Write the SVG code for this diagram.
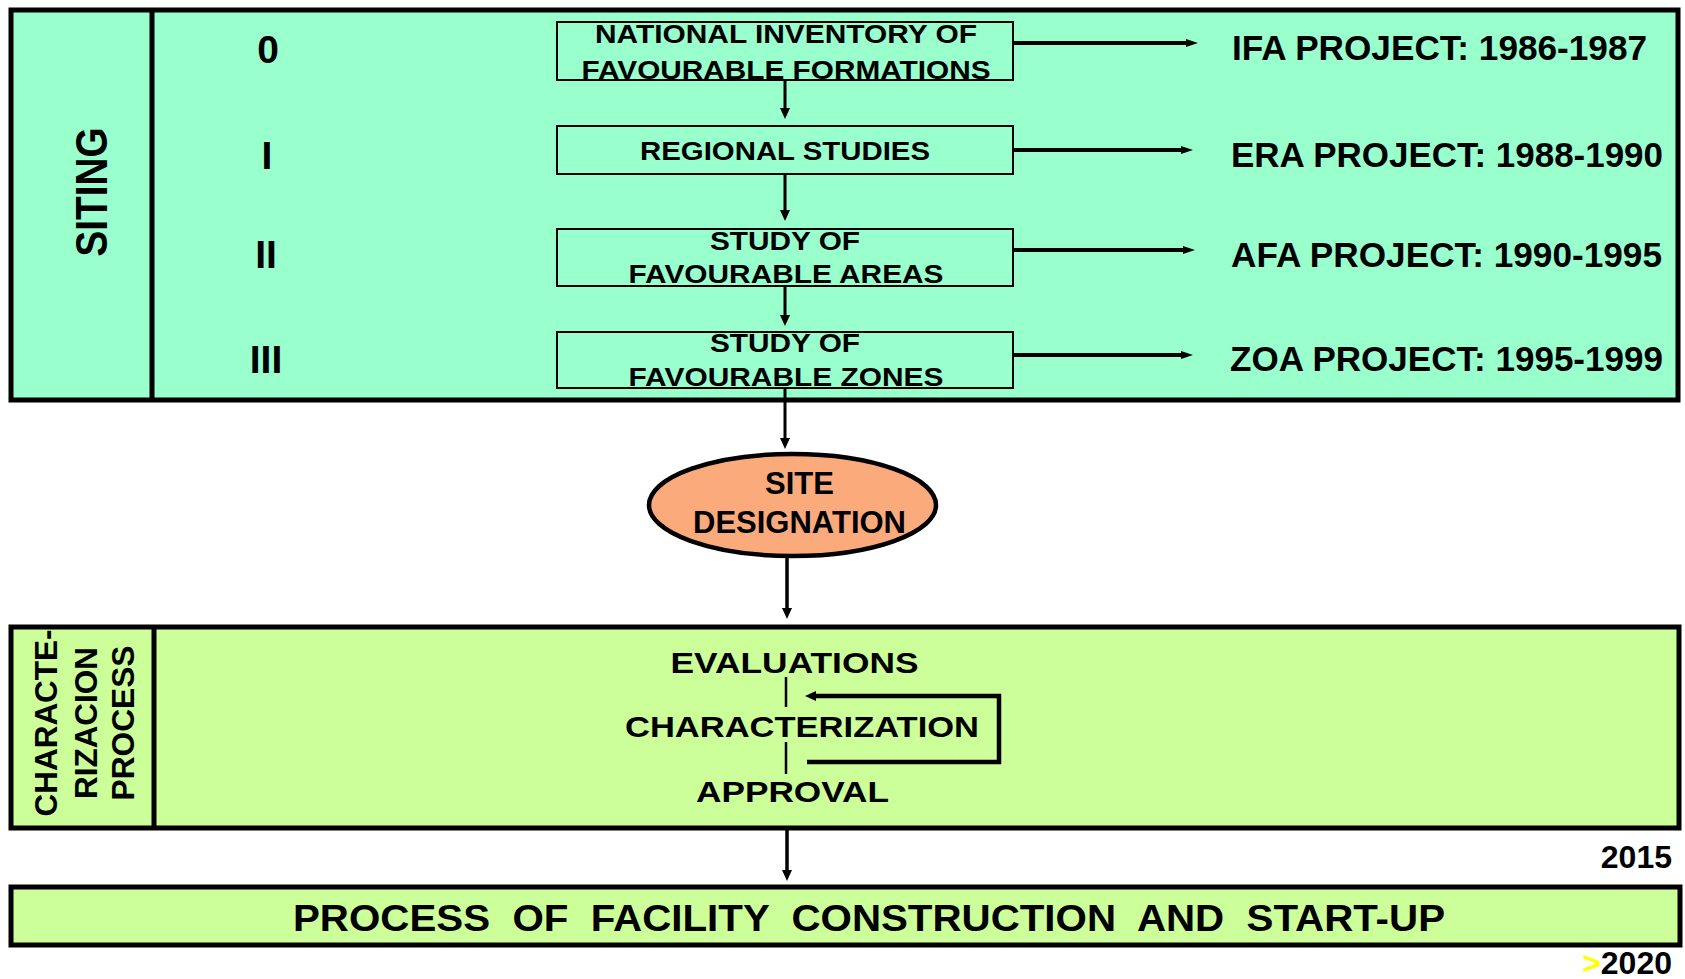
<svg xmlns="http://www.w3.org/2000/svg" width="1685" height="979" viewBox="0 0 1685 979">
  <style>
    .t { font-family: "Liberation Sans", Arial, sans-serif; font-weight: bold; fill: #000; }
    .panel { stroke: #000; stroke-width: 5; }
    .siting { fill: #99FFCC; }
    .charac { fill: #CCFF99; }
    .step { fill: #99FFCC; stroke: #000; stroke-width: 2; }
    .conn { stroke: #000; fill: none; }
  </style>
  <defs>
    <marker id="headV" markerUnits="userSpaceOnUse" markerWidth="11" markerHeight="10" refX="0" refY="5" orient="auto" overflow="visible">
      <path d="M0,0 L11,5 L0,10 Z" fill="#000"/>
    </marker>
    <marker id="headH" markerUnits="userSpaceOnUse" markerWidth="12" markerHeight="8" refX="0" refY="4" orient="auto" overflow="visible">
      <path d="M0,0 L12,4 L0,8 Z" fill="#000"/>
    </marker>
  </defs>

  <!-- Siting panel -->
  <g id="siting-panel">
    <rect class="panel siting" x="11" y="10" width="1667" height="390"/>
    <line x1="152" y1="10" x2="152" y2="400" stroke="#000" stroke-width="5"/>
    <text class="t" font-size="45" text-anchor="middle" textLength="129" lengthAdjust="spacingAndGlyphs" transform="translate(107,192) rotate(-90)">SITING</text>
    <text class="t" font-size="39" text-anchor="middle" x="268" y="63">0</text>
    <text class="t" font-size="39" text-anchor="middle" x="267" y="169">I</text>
    <text class="t" font-size="39" text-anchor="middle" x="266" y="268">II</text>
    <text class="t" font-size="39" text-anchor="middle" x="266" y="373">III</text>
  </g>

  <!-- Siting steps -->
  <g id="step-0">
    <rect class="step" x="557" y="22" width="456" height="58"/>
    <text class="t" font-size="25" text-anchor="middle" x="786" y="43" textLength="382" lengthAdjust="spacingAndGlyphs">NATIONAL INVENTORY OF</text>
    <text class="t" font-size="25" text-anchor="middle" x="786" y="79" textLength="409" lengthAdjust="spacingAndGlyphs">FAVOURABLE FORMATIONS</text>
  </g>
  <g id="step-1">
    <rect class="step" x="557" y="126" width="456" height="48"/>
    <text class="t" font-size="25" text-anchor="middle" x="785" y="160" textLength="290" lengthAdjust="spacingAndGlyphs">REGIONAL STUDIES</text>
  </g>
  <g id="step-2">
    <rect class="step" x="557" y="229" width="456" height="57"/>
    <text class="t" font-size="25" text-anchor="middle" x="785" y="250" textLength="150" lengthAdjust="spacingAndGlyphs">STUDY OF</text>
    <text class="t" font-size="25" text-anchor="middle" x="786" y="283" textLength="315" lengthAdjust="spacingAndGlyphs">FAVOURABLE AREAS</text>
  </g>
  <g id="step-3">
    <rect class="step" x="557" y="332" width="456" height="56"/>
    <text class="t" font-size="25" text-anchor="middle" x="785" y="352" textLength="150" lengthAdjust="spacingAndGlyphs">STUDY OF</text>
    <text class="t" font-size="25" text-anchor="middle" x="786" y="386" textLength="315" lengthAdjust="spacingAndGlyphs">FAVOURABLE ZONES</text>
  </g>

  <!-- Project labels -->
  <g id="project-ifa"><text class="t" font-size="35" x="1232" y="60" textLength="415" lengthAdjust="spacingAndGlyphs">IFA PROJECT: 1986-1987</text></g>
  <g id="project-era"><text class="t" font-size="35" x="1231" y="167" textLength="432" lengthAdjust="spacingAndGlyphs">ERA PROJECT: 1988-1990</text></g>
  <g id="project-afa"><text class="t" font-size="35" x="1231" y="267" textLength="431" lengthAdjust="spacingAndGlyphs">AFA PROJECT: 1990-1995</text></g>
  <g id="project-zoa"><text class="t" font-size="35" x="1230" y="371" textLength="433" lengthAdjust="spacingAndGlyphs">ZOA PROJECT: 1995-1999</text></g>

  <!-- Site designation -->
  <g id="site-designation">
    <ellipse cx="792.5" cy="505" rx="143.5" ry="51" fill="#FBAA7C" stroke="#000" stroke-width="4.5"/>
    <text class="t" font-size="31" text-anchor="middle" x="799.5" y="494">SITE</text>
    <text class="t" font-size="31" text-anchor="middle" x="799.5" y="533">DESIGNATION</text>
  </g>

  <!-- Characterization process panel -->
  <g id="characterization-panel">
    <rect class="panel charac" x="11" y="627" width="1668" height="201"/>
    <line x1="154" y1="627" x2="154" y2="828" stroke="#000" stroke-width="5"/>
    <text class="t" font-size="32" text-anchor="middle" textLength="187" lengthAdjust="spacingAndGlyphs" transform="translate(57,723) rotate(-90)">CHARACTE-</text>
    <text class="t" font-size="32" text-anchor="middle" textLength="152" lengthAdjust="spacingAndGlyphs" transform="translate(97,723) rotate(-90)">RIZACION</text>
    <text class="t" font-size="32" text-anchor="middle" textLength="155" lengthAdjust="spacingAndGlyphs" transform="translate(134,723) rotate(-90)">PROCESS</text>
    <text class="t" font-size="30" text-anchor="middle" x="794.5" y="673" textLength="248" lengthAdjust="spacingAndGlyphs">EVALUATIONS</text>
    <text class="t" font-size="30" text-anchor="middle" x="802" y="737" textLength="354" lengthAdjust="spacingAndGlyphs">CHARACTERIZATION</text>
    <text class="t" font-size="30" text-anchor="middle" x="792.5" y="802" textLength="193" lengthAdjust="spacingAndGlyphs">APPROVAL</text>
  </g>

  <!-- Construction and start-up panel -->
  <g id="construction-panel">
    <rect class="panel charac" x="11" y="887" width="1669" height="58"/>
    <text class="t" font-size="37" x="293" y="931" textLength="1152" lengthAdjust="spacingAndGlyphs" style="white-space:pre">PROCESS  OF  FACILITY  CONSTRUCTION  AND  START-UP</text>
  </g>

  <!-- Milestone years -->
  <g id="year-2015"><text class="t" font-size="32" text-anchor="end" x="1672" y="868">2015</text></g>
  <g id="year-2020"><text class="t" font-size="32" text-anchor="end" x="1672" y="974"><tspan fill="#FFFF00">&gt;</tspan>2020</text></g>

  <!-- Connectors -->
  <g id="connectors" class="conn">
    <!-- step chain -->
    <line x1="785" y1="80" x2="785" y2="108" stroke-width="3" marker-end="url(#headV)"/>
    <line x1="785" y1="174" x2="785" y2="210" stroke-width="3" marker-end="url(#headV)"/>
    <line x1="785" y1="286" x2="785" y2="315" stroke-width="3" marker-end="url(#headV)"/>
    <line x1="785" y1="388" x2="785" y2="438" stroke-width="3" marker-end="url(#headV)"/>
    <line x1="787" y1="558" x2="787" y2="608" stroke-width="3.5" marker-end="url(#headV)"/>
    <line x1="787" y1="828" x2="787" y2="870" stroke-width="3.5" marker-end="url(#headV)"/>
    <!-- steps to projects -->
    <line x1="1013" y1="43" x2="1186" y2="43" stroke-width="4" marker-end="url(#headH)"/>
    <line x1="1013" y1="150" x2="1181" y2="150" stroke-width="4" marker-end="url(#headH)"/>
    <line x1="1013" y1="250" x2="1183" y2="250" stroke-width="4" marker-end="url(#headH)"/>
    <line x1="1013" y1="355" x2="1181" y2="355" stroke-width="4" marker-end="url(#headH)"/>
    <!-- evaluation / approval link -->
    <line x1="786" y1="677" x2="786" y2="707" stroke-width="2.5"/>
    <line x1="786" y1="742" x2="786" y2="774" stroke-width="2.5"/>
    <!-- characterization feedback loop -->
    <path d="M807,762 H999 V696 H816" stroke-width="4.5" marker-end="url(#headV)"/>
  </g>
</svg>
